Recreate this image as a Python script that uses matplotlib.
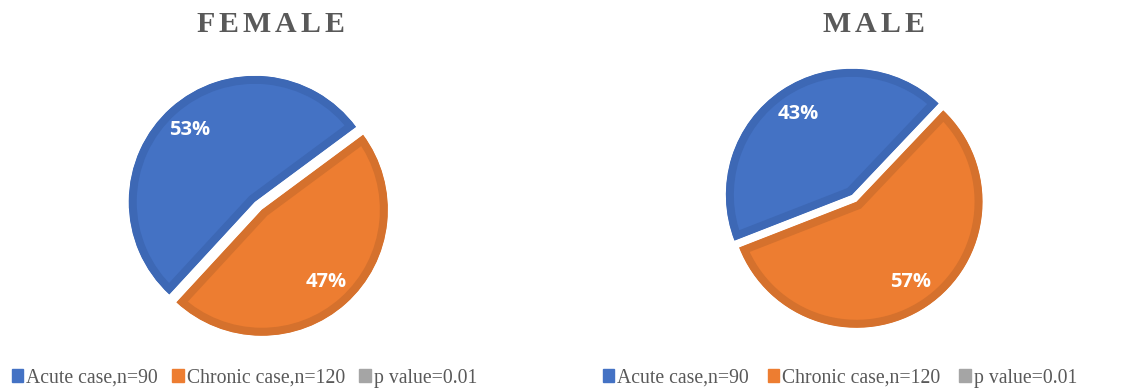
import matplotlib
matplotlib.use('Agg')
import matplotlib.pyplot as plt
import matplotlib.patches as mpatches

W, H, DPI = 1121, 390, 100

# data
series = ['Acute case,n=90', 'Chronic case,n=120', 'p value=0.01']
female_pct = [53, 47]
male_pct = [43, 57]
titles = ['FEMALE', 'MALE']

C_ACUTE, E_ACUTE = '#4472C4', '#3D68B5'
C_CHRON, E_CHRON = '#ED7D31', '#D5712D'
C_PVAL = '#A5A5A5'
C_TEXT = '#595959'

R_PX = 126      # pie radius in pixels
HALF = 150      # half size of each pie axes in pixels

fig = plt.figure(figsize=(W / DPI, H / DPI), dpi=DPI)


def pie_axes(cx, cy):
    """Square axes centred at pixel (cx, cy), measured from the top-left."""
    ax = fig.add_axes([(cx - HALF) / W, (H - cy - HALF) / H,
                       2 * HALF / W, 2 * HALF / H])
    return ax


def draw_pie(ax, pct, start, explode):
    wedges, texts, autotexts = ax.pie(
        pct, colors=[C_ACUTE, C_CHRON], startangle=start, counterclock=True,
        explode=[explode, explode], autopct=lambda p: f'{round(p)}%',
        pctdistance=0.77, wedgeprops=dict(linewidth=11.5),
        textprops=dict(color='white', fontsize=14.5, fontweight='bold',
                       family='Open Sans'))
    # darker rim drawn only on the inside of each slice
    for w, ec in zip(wedges, [E_ACUTE, E_CHRON]):
        w.set_edgecolor(ec)
        w.set_clip_on(True)
        w.set_clip_path(w)
    lim = HALF / R_PX
    ax.set_xlim(-lim, lim)
    ax.set_ylim(-lim, lim)
    ax.set_aspect('auto')
    ax.axis('off')


ax_f = pie_axes(258.3, 205.8)
draw_pie(ax_f, female_pct, 36.5, 0.042)
ax_m = pie_axes(854.2, 198.3)
draw_pie(ax_m, male_pct, 46.5, 0.033)

# titles with letter spacing
renderer = fig.canvas.get_renderer()


def spaced_title(word, cx, baseline, size=21.5, gap=4):
    widths = []
    for ch in word:
        t = fig.text(0, 0, ch, fontsize=size, fontweight='bold',
                     family='Liberation Serif')
        widths.append(t.get_window_extent(renderer).width)
        t.remove()
    x = cx - (sum(widths) + gap * (len(word) - 1)) / 2
    for ch, w in zip(word, widths):
        fig.text(x / W, 1 - baseline / H, ch, fontsize=size, fontweight='bold',
                 family='Liberation Serif', color=C_TEXT,
                 ha='left', va='baseline')
        x += w + gap


spaced_title(titles[0], 270.3, 31.5)
spaced_title(titles[1], 873.4, 31.5)

# legends under each pie
handles = [mpatches.Patch(color=C_ACUTE), mpatches.Patch(color=C_CHRON),
           mpatches.Patch(color=C_PVAL)]
font = dict(family='Liberation Serif', size=14.2)
for x0, colsp in [(12, 0.72), (603, 0.95)]:
    leg = fig.legend(handles, series, loc='center left',
                     bbox_to_anchor=(x0 / W, 1 - 378 / H), ncol=3,
                     frameon=False, prop=font, handlelength=0.58,
                     handleheight=0.58, handletextpad=0.15,
                     columnspacing=colsp, borderpad=0, borderaxespad=0)
    for t in leg.get_texts():
        t.set_color(C_TEXT)

fig.savefig('out.png', dpi=DPI)
